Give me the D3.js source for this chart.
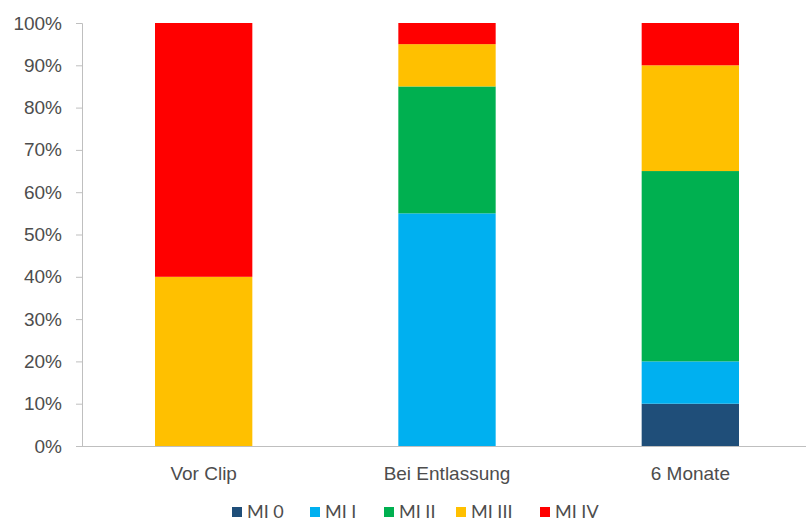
<!DOCTYPE html>
<html>
<head>
<meta charset="utf-8">
<script src="https://cdn.jsdelivr.net/npm/d3@7"></script>
<style>
  html, body { margin: 0; padding: 0; background: #fff; }
  svg { display: block; font-family: Lato, "Open Sans", sans-serif; }
</style>
</head>
<body>
<svg id="chart" width="806" height="526"></svg>
<script>
// Stacked 100% bars: MI grade distribution at three time points
const categories = ["Vor Clip", "Bei Entlassung", "6 Monate"];
const seriesNames = ["MI 0", "MI I", "MI II", "MI III", "MI IV"];
const mi0   = [0, 0, 10];
const mi1   = [0, 55, 10];
const mi2   = [0, 30, 45];
const mi3   = [40, 10, 25];
const mi4   = [60, 5, 10];
const yTicks = [0, 10, 20, 30, 40, 50, 60, 70, 80, 90, 100];
const colors = ["#1F4E79", "#00B0F0", "#00B050", "#FFC000", "#FF0000"];

const seriesValues = [mi0, mi1, mi2, mi3, mi4];
const rows = categories.map((c, i) => {
  const r = { category: c };
  seriesNames.forEach((s, j) => { r[s] = seriesValues[j][i]; });
  return r;
});

const svg = d3.select("#chart");
const margin = { left: 82, top: 23 };
const plotBottom = 446;
const textColor = "#4d4d4d";

const x = d3.scaleBand()
  .domain(categories)
  .range([margin.left, 812])
  .paddingInner(0.6)
  .paddingOuter(0.3);

const y = d3.scaleLinear().domain([0, 100]).range([plotBottom, margin.top]);

const layers = d3.stack().keys(seriesNames)(rows);
const color = d3.scaleOrdinal().domain(seriesNames).range(colors);

svg.append("g")
  .selectAll("g")
  .data(layers)
  .join("g")
  .attr("fill", d => color(d.key))
  .selectAll("rect")
  .data(d => d.filter(p => p[1] - p[0] > 0))
  .join("rect")
  .attr("x", d => x(d.data.category))
  .attr("width", x.bandwidth())
  .attr("y", d => y(d[1]))
  .attr("height", d => y(d[0]) - y(d[1]));

// Y axis
const yAxis = svg.append("g")
  .attr("transform", `translate(${margin.left},0)`)
  .call(d3.axisLeft(y).tickValues(yTicks).tickFormat(d => d + "%").tickSize(6).tickPadding(14));
yAxis.select(".domain").attr("stroke", "#bfbfbf");
yAxis.selectAll(".tick line").attr("stroke", "#bfbfbf");
yAxis.selectAll(".tick text")
  .attr("fill", textColor)
  .style("font-size", "19px");

// X axis
const xAxis = svg.append("g")
  .attr("transform", `translate(0,${plotBottom})`)
  .call(d3.axisBottom(x).tickSize(0).tickPadding(21));
xAxis.select(".domain").attr("stroke", "#bfbfbf").attr("d", `M${margin.left},0.5H806`);
xAxis.selectAll(".tick text")
  .attr("fill", textColor)
  .style("font-size", "19px");

// Legend
const legendX = [232, 310, 384, 456, 540];
const legend = svg.append("g").attr("transform", "translate(0,512)");
const items = legend.selectAll("g")
  .data(seriesNames)
  .join("g")
  .attr("transform", (d, i) => `translate(${legendX[i]},0)`);
items.append("rect")
  .attr("x", 0).attr("y", -5)
  .attr("width", 10).attr("height", 10)
  .attr("fill", d => color(d));
items.append("text")
  .attr("x", 15)
  .attr("dy", "0.35em")
  .attr("fill", textColor)
  .style("font-size", "18px")
  .text(d => d);
</script>
</body>
</html>
